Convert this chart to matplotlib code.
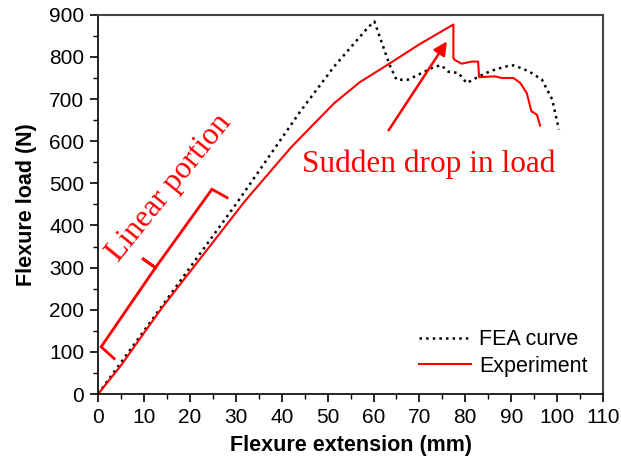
import matplotlib
matplotlib.use("Agg")
import matplotlib.pyplot as plt
from matplotlib.ticker import MultipleLocator

# FEA curve (dotted)
fea_x = [0, 10, 20, 30, 44, 51.4, 58.8, 60.2, 62, 63.5, 65, 67.5, 71.1, 73.3, 74.8,
         76.3, 78.5, 80.3, 82, 84.3, 86.5, 89.4, 90.5, 92.3, 94, 96.7, 98.9, 100.4]
fea_y = [0, 150, 300, 450, 670, 777, 870, 884, 828, 781, 746, 746, 765, 777, 780,
         765, 762, 738, 748, 761, 770, 779, 780, 773, 765, 746, 700, 628]

# Experiment curve (solid red)
exp_x = [0, 5, 10, 14, 22, 32, 42, 51.4, 57, 63, 70, 77.4, 77.4, 77.7, 79.2, 81.4,
         82.8, 83, 86.5, 88, 90.5, 92, 93.4, 94.4, 95.6, 96.3]
exp_y = [0, 68, 145, 206, 318, 458, 585, 690, 740, 781, 830, 877, 797, 793, 784, 789,
         789, 752, 754, 750, 750, 738, 714, 671, 663, 637]

# Bracket marking the linear portion
br_x = [3.5, 0.66, 12.5, 9.6, 12.5, 24.8, 28.1]
br_y = [84, 112, 300, 322, 300, 486, 466]

sans = ['Liberation Sans', 'DejaVu Sans']
serif = ['Liberation Serif', 'DejaVu Serif']

fig = plt.figure(figsize=(6.21, 4.63), dpi=100)
ax = fig.add_axes([0.158, 0.149, 0.813, 0.819])

ax.plot(fea_x, fea_y, color='black', linestyle=':', linewidth=1.8, label='FEA curve')
ax.plot(exp_x, exp_y, color='red', linestyle='-', linewidth=1.5, label='Experiment')
ax.plot(br_x, br_y, color='red', linewidth=2.0, solid_joinstyle='miter')

ax.set_xlim(0, 110)
ax.set_ylim(0, 900)
ax.xaxis.set_major_locator(MultipleLocator(10))
ax.xaxis.set_minor_locator(MultipleLocator(5))
ax.yaxis.set_major_locator(MultipleLocator(100))
ax.yaxis.set_minor_locator(MultipleLocator(50))

ax.tick_params(which='major', direction='out', length=6, width=1.2, labelsize=15,
               pad=4, top=False, right=False)
ax.tick_params(which='minor', direction='out', length=3.5, width=1.0, top=False, right=False)
for lab in ax.get_xticklabels() + ax.get_yticklabels():
    lab.set_family(sans)

for s in ['left', 'bottom']:
    ax.spines[s].set_color('black')
    ax.spines[s].set_linewidth(1.2)
for s in ['top', 'right']:
    ax.spines[s].set_color('#444444')
    ax.spines[s].set_linewidth(1.5)

ax.set_xlabel('Flexure extension (mm)', fontsize=15.5, fontweight='bold',
              family=sans, labelpad=6)
ax.set_ylabel('Flexure load (N)', fontsize=15.5, fontweight='bold',
              family=sans, labelpad=9)

leg = ax.legend(loc='lower right', frameon=False, handlelength=2.4,
                bbox_to_anchor=(1.0, 0.006), borderaxespad=0.3, labelspacing=0.25,
                handletextpad=0.4,
                prop={'family': sans, 'size': 15.5})

ax.text(15.5, 490, 'Linear portion', color='red', fontsize=22.5, family=serif,
        rotation=51, ha='center', va='center', rotation_mode='anchor')
ax.text(72, 546, 'Sudden drop in load', color='red', fontsize=22.5, family=serif,
        ha='center', va='center')
ax.annotate('', xy=(76.0, 837), xytext=(63.3, 626),
            arrowprops=dict(arrowstyle='-|>', color='red', lw=1.8,
                            mutation_scale=20, shrinkA=0, shrinkB=0))

fig.savefig('out.png', dpi=100)
